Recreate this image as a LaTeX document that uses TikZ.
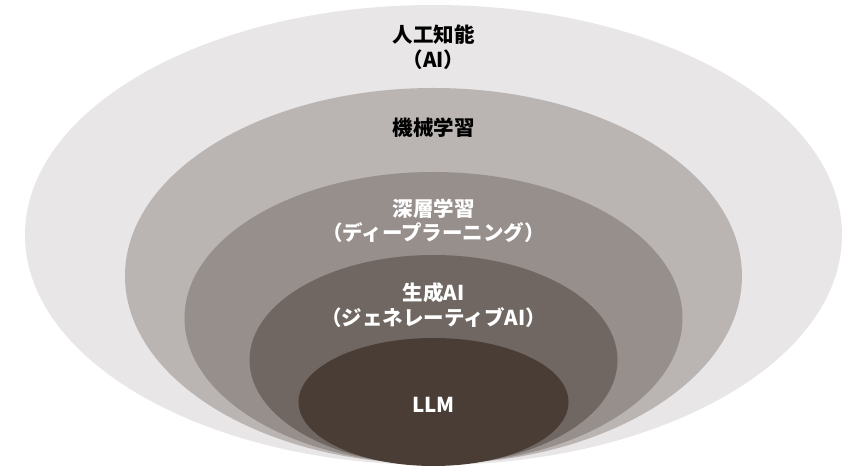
\documentclass[tikz,border=0pt]{standalone}
\usepackage{fontspec}
\setmainfont{Noto Sans CJK JP}
\usepackage{xcolor}
\usepackage{tikz}
\usetikzlibrary{positioning,shapes.geometric}

\definecolor{aicol}{RGB}{232,230,231}
\definecolor{mlcol}{RGB}{186,181,179}
\definecolor{dlcol}{RGB}{150,143,139}
\definecolor{gencol}{RGB}{112,103,98}
\definecolor{llmcol}{RGB}{74,61,54}

\begin{document}
\begin{tikzpicture}[x=1pt, y=1pt]
    % Define styles
    \tikzstyle{layer} = [ellipse, inner sep=0pt, draw=none]
    \tikzstyle{lbl} = [inner sep=0pt, align=center, font=\bfseries\fontsize{20.5}{24.5}\selectfont]

    \useasboundingbox (0,0) rectangle (851,471);

    % Ellipses
    \node [layer, fill=aicol, minimum width=817, minimum height=460] (ai) at (433.5,236) {};
    \node [layer, fill=mlcol, minimum width=617, minimum height=376] (ml) at (433.5,195) {};
    \node [layer, fill=dlcol, minimum width=498, minimum height=292] (dl) at (433.5,153) {};
    \node [layer, fill=gencol, minimum width=368, minimum height=210] (genai) at (433.5,111) {};
    \node [layer, fill=llmcol, minimum width=270, minimum height=128] (llm) at (433.5,69) {};

    % Labels
    \node [lbl, below=20pt of ai.north] (ailbl) {人工知能\\（AI）};
    \node [lbl, below=29.5pt of ml.north] (mllbl) {機械学習};
    \node [lbl, white, below=26.5pt of dl.north] (dllbl) {深層学習\\（ディープラーニング）};
    \node [lbl, white, below=28pt of genai.north] (genlbl) {生成AI\\（ジェネレーティブAI）};
    \node [lbl, white] (llmlbl) at ([yshift=-3pt]llm.center) {LLM};

\end{tikzpicture}
\end{document}
